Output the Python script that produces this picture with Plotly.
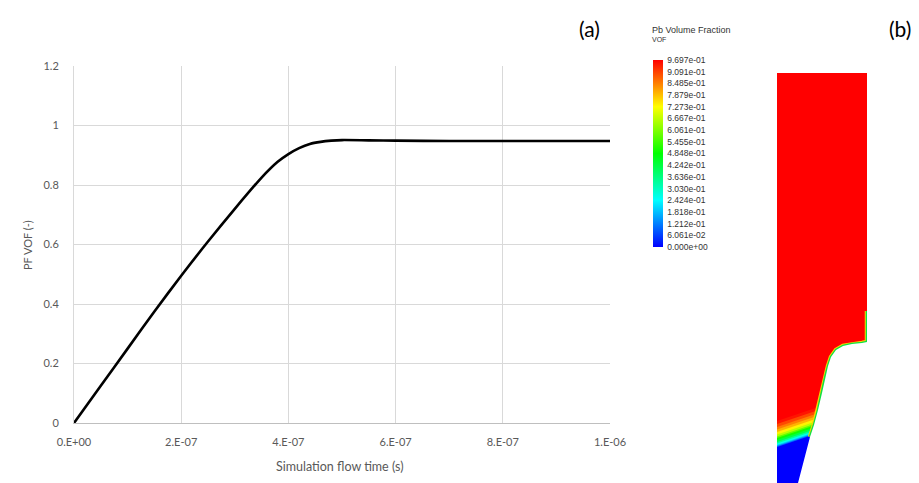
import plotly.graph_objects as go
from plotly.colors import sample_colorscale

W, H = 919, 483

# ---- (a) Pb volume fraction vs. simulation flow time ----
time_s = [0, 0.5e-7, 1.0e-7, 1.5e-7, 2.0e-7, 2.5e-7, 3.0e-7, 3.5e-7, 3.8e-7,
          4.0e-7, 4.2e-7, 4.4e-7, 4.6e-7, 4.8e-7, 5.0e-7, 5.5e-7, 6.0e-7,
          7.0e-7, 8.0e-7, 9.0e-7, 1.0e-6]
pf_vof = [0, 0.125, 0.25, 0.375, 0.495, 0.61, 0.72, 0.825, 0.878,
          0.904, 0.924, 0.938, 0.945, 0.949, 0.951, 0.950, 0.949,
          0.948, 0.948, 0.948, 0.948]

x_tickvals = [0, 2e-7, 4e-7, 6e-7, 8e-7, 1e-6]
x_ticktext = ["0.E+00", "2.E-07", "4.E-07", "6.E-07", "8.E-07", "1.E-06"]
y_tickvals = [0, 0.2, 0.4, 0.6, 0.8, 1.0, 1.2]
y_ticktext = ["0", "0.2", "0.4", "0.6", "0.8", "1", "1.2"]

# ---- (b) VOF contour: legend levels and domain geometry (local units) ----
legend_levels = [0.0, 0.06061, 0.1212, 0.1818, 0.2424, 0.3030, 0.3636, 0.4242,
                 0.4848, 0.5455, 0.6061, 0.6667, 0.7273, 0.7879, 0.8485,
                 0.9091, 0.9697]
rainbow = [[0.0, "#0000ff"], [0.25, "#00ffff"], [0.5, "#00ff00"],
           [0.75, "#ffff00"], [1.0, "#ff0000"]]

domain_u = [0, 90, 90, 0]
domain_v = [0, 0, 410, 410]

# outer wall contour below the step (u, v)
wall_u = [90, 85, 75, 66, 59, 54, 51, 48, 45, 41, 37, 33, 30, 26, 21]
wall_v = [141, 140, 139, 137, 133, 126, 117, 105, 90, 73, 58, 46, 35, 18, 0]

# interface bands: VOF value and band top at u=0 / u=95
band_vof = [0.95, 0.90, 0.85, 0.80, 0.74, 0.66, 0.58, 0.50, 0.42, 0.34,
            0.26, 0.18, 0.10, 0.0]
band_top_left = [62, 59, 56, 53.5, 51, 48.5, 46.5, 45, 43, 41,
                 39.5, 38, 37, 36]
band_top_right = [v + 32 for v in band_top_left]

fig = go.Figure()

fig.add_trace(go.Scatter(
    x=time_s, y=pf_vof, mode="lines",
    line=dict(color="black", width=2.6, shape="spline", smoothing=0.7),
    xaxis="x", yaxis="y", showlegend=False, hoverinfo="skip"))

# fluid domain (liquid Pb, red)
fig.add_trace(go.Scatter(
    x=domain_u, y=domain_v, fill="toself", mode="lines",
    fillcolor=sample_colorscale(rainbow, [1.0])[0], line=dict(width=0),
    xaxis="x2", yaxis="y2", showlegend=False, hoverinfo="skip"))

# transition bands down to the void (blue)
for f, vl, vr in zip(band_vof, band_top_left, band_top_right):
    c = sample_colorscale(rainbow, [min(f / 0.9697, 1.0)])[0]
    fig.add_trace(go.Scatter(
        x=[0, 95, 95, 0], y=[0, 0, vr, vl], fill="toself", mode="lines",
        fillcolor=c, line=dict(width=0),
        xaxis="x2", yaxis="y2", showlegend=False, hoverinfo="skip"))

# wetted edge along the wall
edge_u = [90] + wall_u[:12]
edge_v = [172] + wall_v[:12]
fig.add_trace(go.Scatter(
    x=edge_u, y=edge_v, mode="lines", line=dict(color="#ffd000", width=4.5),
    xaxis="x2", yaxis="y2", showlegend=False, hoverinfo="skip"))
fig.add_trace(go.Scatter(
    x=edge_u, y=edge_v, mode="lines", line=dict(color="#10e040", width=2.5),
    xaxis="x2", yaxis="y2", showlegend=False, hoverinfo="skip"))

# solid region outside the wall
fig.add_trace(go.Scatter(
    x=wall_u + [100, 100, 90], y=wall_v + [0, 180, 180], fill="toself",
    mode="lines", fillcolor="white", line=dict(width=0),
    xaxis="x2", yaxis="y2", showlegend=False, hoverinfo="skip"))

# colour legend
fig.add_trace(go.Scatter(
    x=[200, 200], y=[600, 600], mode="markers",
    marker=dict(color=[0, 0.9697], cmin=0, cmax=0.9697, colorscale=rainbow,
                size=1, opacity=0, showscale=True,
                colorbar=dict(
                    x=653 / W, xanchor="left", xpad=0,
                    y=(H - 153.5) / H, yanchor="middle", ypad=0,
                    thickness=10, lenmode="pixels", len=187,
                    outlinewidth=0, ticks="outside", ticklen=3,
                    tickcolor="rgba(0,0,0,0)",
                    tickvals=legend_levels,
                    ticktext=[f"{v:.3e}" for v in legend_levels],
                    tickfont=dict(family="Liberation Sans", size=8.5, color="#333333"))),
    xaxis="x2", yaxis="y2", showlegend=False, hoverinfo="skip"))

grid = "#d9d9d9"
tick_font = dict(family="Lato", size=11, color="#595959")


def label(text, px, py, size, family="Lato", color="#595959", angle=0,
          xanchor="center"):
    return dict(text=text, x=px / W, y=1 - py / H, xref="paper", yref="paper",
                xanchor=xanchor, yanchor="middle", textangle=angle,
                showarrow=False, font=dict(family=family, size=size, color=color))


fig.update_layout(
    width=W, height=H,
    margin=dict(l=0, r=0, t=0, b=0, autoexpand=False),
    paper_bgcolor="white", plot_bgcolor="white",
    xaxis=dict(domain=[74 / W, 610 / W], range=[0, 1e-6],
               tickvals=x_tickvals, ticktext=x_ticktext, tickfont=tick_font,
               showgrid=True, gridcolor=grid, gridwidth=1,
               showline=True, linecolor="#bfbfbf", linewidth=1.2,
               zeroline=False, ticks="", ticklabelstandoff=9, fixedrange=True),
    yaxis=dict(domain=[60 / H, 417 / H], range=[0, 1.2],
               tickvals=y_tickvals, ticktext=y_ticktext, tickfont=tick_font,
               showgrid=True, gridcolor=grid, gridwidth=1,
               showline=True, linecolor=grid, linewidth=1,
               zeroline=False, ticks="", ticklabelstandoff=12, fixedrange=True),
    xaxis2=dict(domain=[740 / W, 1.0], range=[-37, 142], visible=False,
                fixedrange=True),
    yaxis2=dict(domain=[0, 1], range=[0, 483], visible=False, fixedrange=True),
    annotations=[
        label("Simulation flow time (s)", 340, 466, 12.5),
        label("PF VOF (-)", 27, 245, 11, angle=-90),
        label("(a)", 589, 29, 21, color="black"),
        label("(b)", 900, 29, 21, color="black"),
        label("Pb Volume Fraction", 650, 30, 9, family="Liberation Sans",
              color="#333333", xanchor="left"),
        label("VOF", 650, 39, 7, family="Liberation Sans",
              color="#333333", xanchor="left"),
    ],
)

fig.write_html("out.html")
